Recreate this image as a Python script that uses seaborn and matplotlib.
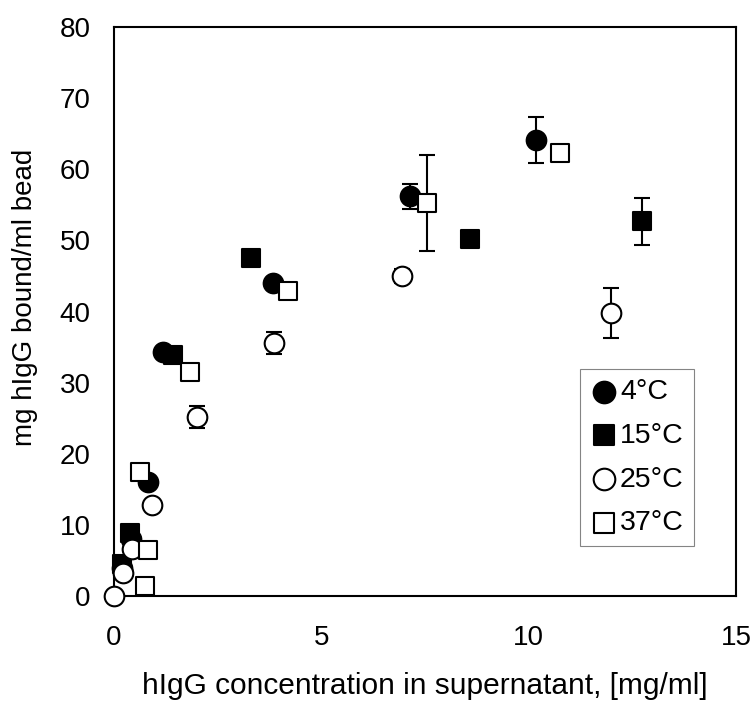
import numpy as np
import pandas as pd
import matplotlib
matplotlib.use("Agg")
import matplotlib.pyplot as plt
import seaborn as sns

# hIgG concentration in supernatant [mg/ml] and bound hIgG [mg/ml bead]
x_4c = [0.20, 0.40, 0.82, 1.18, 3.83, 7.14, 10.18]
y_4c = [4.0, 8.0, 16.0, 34.3, 44.0, 56.2, 64.1]
err_4c = [0, 0, 0, 0, 0, 1.8, 3.2]

x_15c = [0.19, 0.39, 1.42, 3.30, 8.58, 12.73]
y_15c = [4.6, 8.9, 33.9, 47.5, 50.2, 52.7]
err_15c = [0, 0, 0, 0, 0, 3.3]

x_25c = [0.0, 0.22, 0.43, 0.92, 2.00, 3.86, 6.95, 11.98]
y_25c = [0.0, 3.2, 6.7, 12.8, 25.2, 35.6, 45.0, 39.8]
err_25c = [0, 0, 0, 0, 1.6, 1.5, 1.0, 3.5]

x_37c = [0.75, 0.82, 0.63, 1.83, 4.20, 7.55, 10.75]
y_37c = [1.5, 6.5, 17.4, 31.5, 42.9, 55.3, 62.3]
err_37c = [0, 0, 0, 0, 0, 6.75, 0]

series = [
    ("4°C", x_4c, y_4c, err_4c, "o", "black"),
    ("15°C", x_15c, y_15c, err_15c, "s", "black"),
    ("25°C", x_25c, y_25c, err_25c, "o", "white"),
    ("37°C", x_37c, y_37c, err_37c, "s", "white"),
]

sns.set_style("white")
plt.rcParams['font.family'] = ['Liberation Sans', 'DejaVu Sans']
for key in ["text.color", "axes.labelcolor", "xtick.color", "ytick.color"]:
    plt.rcParams[key] = "black"

fig = plt.figure(figsize=(7.55, 7.09), dpi=100)
ax = fig.add_axes([0.151, 0.159, 0.824, 0.803])

for label, xs, ys, errs, marker, face in series:
    df = pd.DataFrame({"x": xs, "y": ys, "err": errs})
    has_err = df[df["err"] > 0]
    ax.errorbar(has_err["x"], has_err["y"], yerr=has_err["err"], fmt="none",
                ecolor="black", elinewidth=1.5, capsize=6, capthick=1.5, zorder=2)
    size = 200 if marker == "o" else 160
    sns.scatterplot(data=df, x="x", y="y", marker=marker, color=face,
                    edgecolor="black", linewidth=1.5, s=size, ax=ax,
                    label=label, zorder=3, clip_on=False)

ax.set_xlim(0, 15)
ax.set_ylim(0, 80)
ax.set_xticks([0, 5, 10, 15])
ax.set_yticks(np.arange(0, 81, 10))
ax.tick_params(axis="both", labelsize=20, direction="in", length=3, width=0.8)
ax.tick_params(axis="x", pad=21)
ax.tick_params(axis="y", pad=17)
ax.set_xlabel("hIgG concentration in supernatant, [mg/ml]", fontsize=21.5, labelpad=15)
ax.set_ylabel("mg hIgG bound/ml bead", fontsize=20)
ax.yaxis.set_label_coords(-0.122, 0.525)

for sp in ax.spines.values():
    sp.set_color("black")
    sp.set_linewidth(1.5)

leg = ax.legend(loc="lower right", bbox_to_anchor=(0.932, 0.088), fontsize=20.5,
                frameon=True, fancybox=False, handletextpad=0.05,
                borderpad=0.35, labelspacing=0.62, handlelength=1.0,
                borderaxespad=0, markerscale=1.1)
leg.get_frame().set_edgecolor("#666666")
leg.get_frame().set_linewidth(0.8)

plt.savefig("out.png", dpi=100)
